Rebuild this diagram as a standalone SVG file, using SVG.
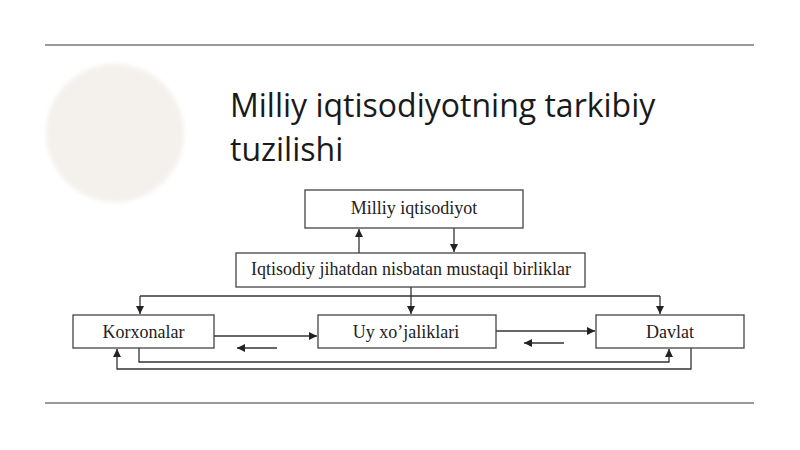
<svg xmlns="http://www.w3.org/2000/svg" width="800" height="450" viewBox="0 0 800 450">
  <defs>
    <marker id="arr" viewBox="0 0 10 10" refX="10" refY="5" markerWidth="9" markerHeight="8" markerUnits="userSpaceOnUse" orient="auto">
      <path d="M0,0 L10,5 L0,10 z" fill="#222"/>
    </marker>
    <filter id="soft" x="-20%" y="-20%" width="140%" height="140%">
      <feGaussianBlur stdDeviation="2"/>
    </filter>
  </defs>
  <style>
    .rule { stroke: #777; stroke-width: 1.6; }
    .box { fill: #fff; stroke: #444; stroke-width: 1.3; }
    .lbl { font-family: "Liberation Serif", "Times New Roman", serif; font-size: 18px; fill: #222; text-anchor: middle; }
    .title { font-family: "Open Sans", "Noto Sans", sans-serif; font-size: 32px; fill: #1a1a1a; }
    .con { fill: none; stroke: #333; stroke-width: 1.3; }
    .arr { marker-end: url(#arr); }
  </style>
  <rect width="800" height="450" fill="#fff"/>
  <line class="rule" x1="45" y1="45" x2="754" y2="45"/>
  <line class="rule" x1="45" y1="403" x2="754" y2="403"/>
  <circle cx="115" cy="133" r="69" fill="#f4f1ed" filter="url(#soft)"/>
  <g id="title">
    <text class="title" x="230" y="117">Milliy iqtisodiyotning tarkibiy</text>
    <text class="title" x="230" y="161">tuzilishi</text>
  </g>

  <g id="connectors">
    <line class="con arr" x1="359" y1="253" x2="359" y2="229"/>
    <line class="con arr" x1="454" y1="228" x2="454" y2="252"/>
    <line class="con" x1="140" y1="296" x2="660" y2="296"/>
    <line class="con arr" x1="140" y1="296" x2="140" y2="314"/>
    <line class="con arr" x1="660" y1="296" x2="660" y2="314"/>
    <line class="con arr" x1="411" y1="287" x2="411" y2="314"/>
    <line class="con arr" x1="214" y1="336" x2="317" y2="336"/>
    <line class="con arr" x1="277" y1="348" x2="237" y2="348"/>
    <line class="con arr" x1="496" y1="331" x2="595" y2="331"/>
    <line class="con arr" x1="564" y1="343" x2="524" y2="343"/>
    <polyline class="con arr" points="139,348 139,362 669,362 669,349"/>
    <polyline class="con arr" points="691,348 691,369 117,369 117,349"/>
  </g>

  <g id="node-milliy">
    <rect class="box" x="305" y="190" width="218" height="38"/>
    <text class="lbl" x="414" y="214">Milliy iqtisodiyot</text>
  </g>
  <g id="node-birliklar">
    <rect class="box" x="236" y="253" width="349" height="34"/>
    <text class="lbl" x="411" y="275">Iqtisodiy jihatdan nisbatan mustaqil birliklar</text>
  </g>
  <g id="node-korxonalar">
    <rect class="box" x="73" y="315" width="141" height="33"/>
    <text class="lbl" x="143.5" y="338">Korxonalar</text>
  </g>
  <g id="node-uy">
    <rect class="box" x="318" y="315" width="178" height="33"/>
    <text class="lbl" x="406" y="338">Uy xo’jaliklari</text>
  </g>
  <g id="node-davlat">
    <rect class="box" x="596" y="315" width="148" height="33"/>
    <text class="lbl" x="670" y="338">Davlat</text>
  </g>
</svg>
